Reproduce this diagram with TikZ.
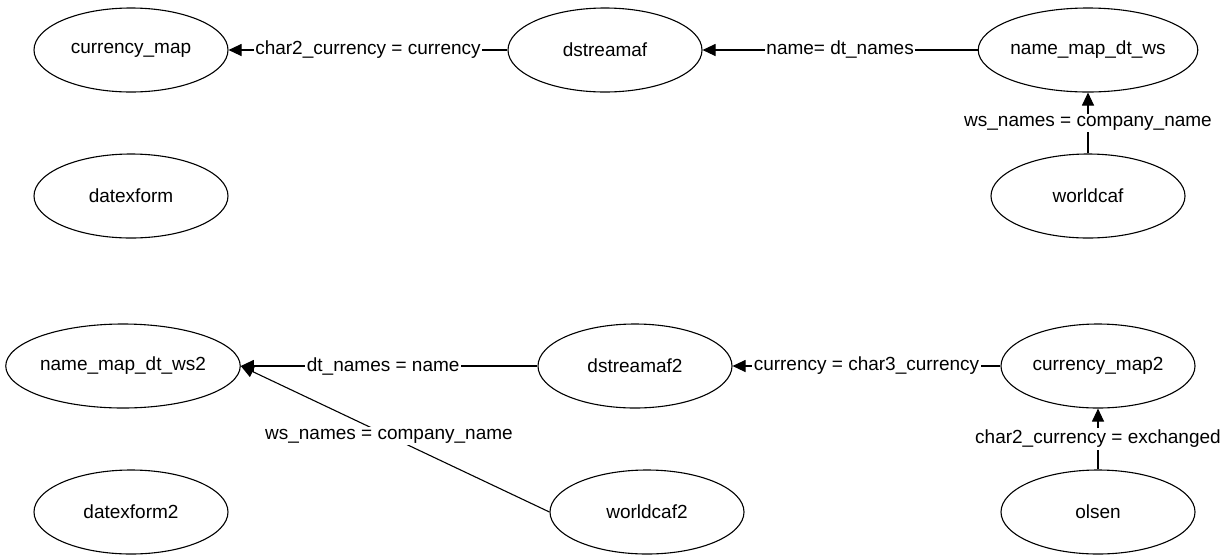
\documentclass[tikz,border=0pt]{standalone}
\usepackage{fontspec}
\setmainfont{Liberation Sans}
\usetikzlibrary{shapes.geometric,arrows.meta}
\begin{document}
\begin{tikzpicture}[x=1pt,y=-1pt,
  ent/.style={draw, ellipse, line width=1.1pt, minimum width=194pt, minimum height=84pt, inner sep=0pt, font=\fontsize{19}{22}\selectfont},
  rel/.style={line width=1.1pt},
  arr/.style={rel, -{Triangle[length=13pt,width=12pt]}},
  lab/.style={fill=white, inner xsep=1.5pt, inner ysep=2pt, font=\fontsize{19}{22}\selectfont}
]
\useasboundingbox (0,0) rectangle (1229,555);
% row 1
\node[ent] (cm)  at (131,50)  {currency\_map};
\node[ent] (ds)  at (605,50)  {dstreamaf};
\node[ent, minimum width=212pt] (nm) at (1088,50) {name\_map\_dt\_ws};
% row 2
\node[ent] (dx)  at (131,196) {datexform};
\node[ent] (wc)  at (1088,196) {worldcaf};
% row 3
\node[ent, minimum width=222pt] (nm2) at (123,366) {name\_map\_dt\_ws2};
\node[ent] (ds2) at (635,366) {dstreamaf2};
\node[ent] (cm2) at (1098,366) {currency\_map2};
% row 4
\node[ent] (dx2) at (131,512) {datexform2};
\node[ent] (wc2) at (647,512) {worldcaf2};
\node[ent] (ol)  at (1098,512) {olsen};
% edges
\draw[arr] (ds.west) -- node[lab] {char2\_currency = currency} (cm.east);
\draw[arr] (nm.west) -- node[lab] {name= dt\_names} (ds.east);
\draw[arr] (wc.north) -- node[lab] {ws\_names = company\_name} (nm.south);
\draw[arr] (cm2.west) -- node[lab] {currency = char3\_currency} (ds2.east);
\draw[arr] (ds2.west) -- node[lab, pos=0.52] {dt\_names = name} (nm2.east);
\draw[arr] (wc2.west) -- node[lab, pos=0.52] {ws\_names = company\_name} (nm2.east);
\draw[arr] (ol.north) -- node[lab] {char2\_currency = exchanged} (cm2.south);
\end{tikzpicture}
\end{document}
